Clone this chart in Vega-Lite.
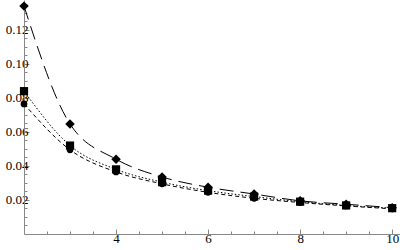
{
  "$schema": "https://vega.github.io/schema/vega-lite/v6.json",
  "autosize": "none",
  "width": 376,
  "height": 234,
  "padding": {"left": 24, "top": 0, "right": 0, "bottom": 16},
  "background": "white",
  "config": {"view": {"stroke": null}, "font": "Liberation Serif"},
  "data": {"values": [
    {"x": 2, "y": 0.134, "s": "A"}, {"x": 3, "y": 0.0647, "s": "A"}, {"x": 4, "y": 0.044, "s": "A"}, {"x": 5, "y": 0.0335, "s": "A"}, {"x": 6, "y": 0.0275, "s": "A"}, {"x": 7, "y": 0.0235, "s": "A"}, {"x": 8, "y": 0.0195, "s": "A"}, {"x": 9, "y": 0.0175, "s": "A"}, {"x": 10, "y": 0.0155, "s": "A"},
    {"x": 2, "y": 0.084, "s": "B"}, {"x": 3, "y": 0.052, "s": "B"}, {"x": 4, "y": 0.038, "s": "B"}, {"x": 5, "y": 0.0305, "s": "B"}, {"x": 6, "y": 0.0255, "s": "B"}, {"x": 7, "y": 0.022, "s": "B"}, {"x": 8, "y": 0.019, "s": "B"}, {"x": 9, "y": 0.0168, "s": "B"}, {"x": 10, "y": 0.0152, "s": "B"},
    {"x": 2, "y": 0.0765, "s": "C"}, {"x": 3, "y": 0.0495, "s": "C"}, {"x": 4, "y": 0.0365, "s": "C"}, {"x": 5, "y": 0.0295, "s": "C"}, {"x": 6, "y": 0.0245, "s": "C"}, {"x": 7, "y": 0.021, "s": "C"}, {"x": 8, "y": 0.0185, "s": "C"}, {"x": 9, "y": 0.0165, "s": "C"}, {"x": 10, "y": 0.0148, "s": "C"}
  ]},
  "encoding": {
    "x": {"field": "x", "type": "quantitative", "scale": {"domain": [2, 10.17], "nice": false, "zero": false},
      "axis": {"title": null, "grid": false, "domainColor": "#888", "tickColor": "#888",
        "values": [2.5,3,3.5,4,4.5,5,5.5,6,6.5,7,7.5,8,8.5,9,9.5,10],
        "tickSize": {"condition": {"test": "datum.value % 2 == 0", "value": -5}, "value": -3},
        "labelExpr": "datum.value % 2 == 0 ? format(datum.value, 'd') : ''",
        "labelFont": "Liberation Serif", "labelFontSize": 13, "labelColor": "#000", "labelPadding": 3}},
    "y": {"field": "y", "type": "quantitative", "scale": {"domain": [0, 0.1376], "nice": false},
      "axis": {"title": null, "grid": false, "domainColor": "#888", "tickColor": "#888",
        "values": [0.005,0.01,0.015,0.02,0.025,0.03,0.035,0.04,0.045,0.05,0.055,0.06,0.065,0.07,0.075,0.08,0.085,0.09,0.095,0.1,0.105,0.11,0.115,0.12,0.125,0.13,0.135],
        "tickSize": {"condition": {"test": "abs(datum.value/0.02 - round(datum.value/0.02)) < 0.001", "value": -5}, "value": -3},
        "labelExpr": "abs(datum.value/0.02 - round(datum.value/0.02)) < 0.001 ? format(datum.value, '.2f') : ''",
        "labelFont": "Liberation Serif", "labelFontSize": 13, "labelColor": "#000", "labelPadding": 1}}
  },
  "layer": [
    {"mark": {"type": "line", "interpolate": "monotone", "color": "black", "strokeWidth": 1},
      "encoding": {"strokeDash": {"field": "s", "type": "nominal", "legend": null,
        "scale": {"domain": ["A", "B", "C"], "range": [[14, 7], [1.5, 2], [4, 3]]}}}},
    {"mark": {"type": "point", "filled": true, "color": "black", "opacity": 1},
      "encoding": {
        "shape": {"field": "s", "type": "nominal", "legend": null, "scale": {"domain": ["A", "B", "C"], "range": ["diamond", "square", "circle"]}},
        "size": {"field": "s", "type": "nominal", "legend": null, "scale": {"domain": ["A", "B", "C"], "range": [90, 45, 55]}}}}
  ]
}
